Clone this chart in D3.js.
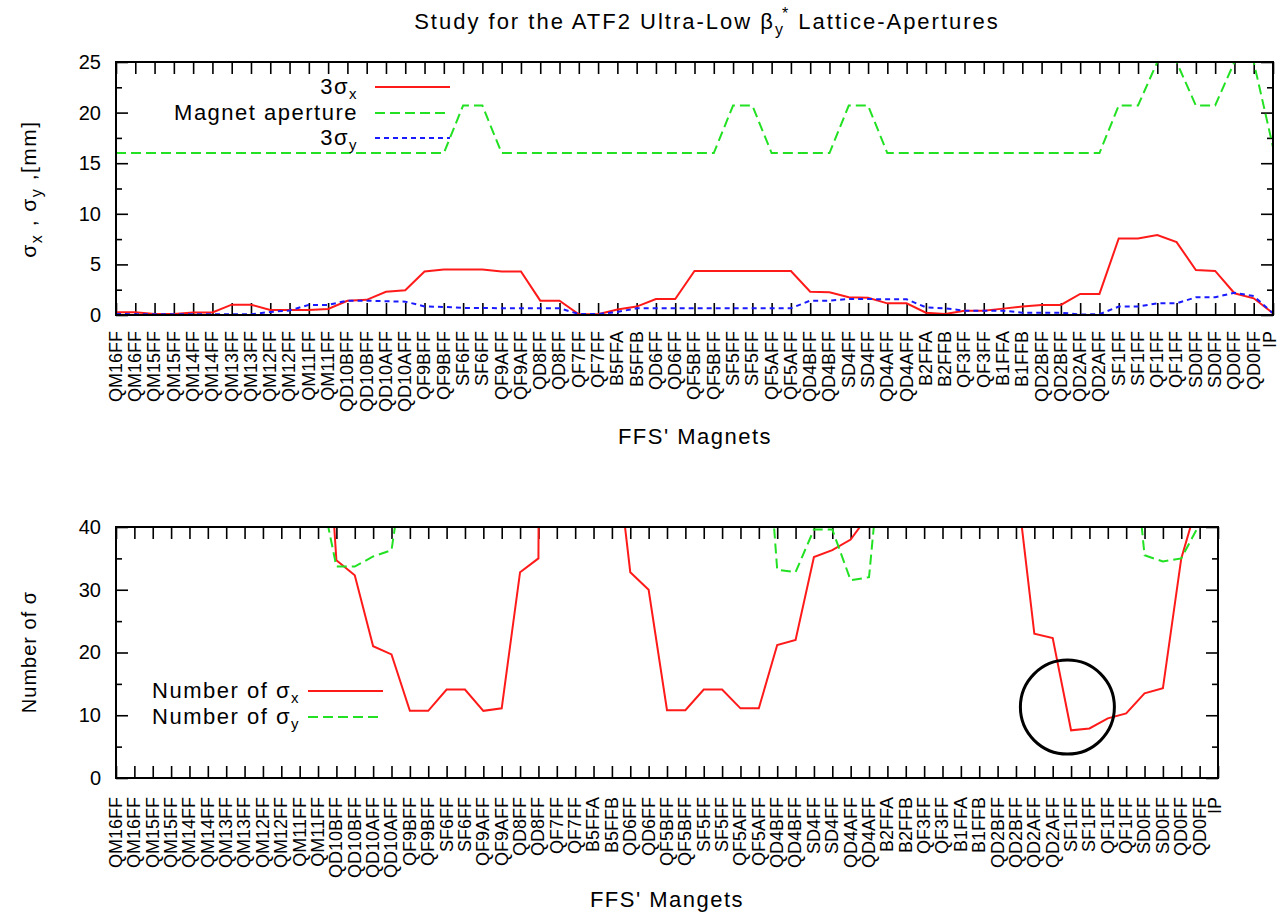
<!DOCTYPE html>
<html>
<head>
<meta charset="utf-8">
<script src="https://cdn.jsdelivr.net/npm/d3@7"></script>
<style>
  html, body { margin: 0; padding: 0; background: #fff; }
  svg text { font-family: "Liberation Sans", Arial, sans-serif; fill: #000; }
</style>
</head>
<body>
<svg id="chart" width="1280" height="917"></svg>
<script>
"use strict";

// magnet names along the final focus line (same for both panels)
const magnets = [
    "QM16FF", "QM16FF", "QM15FF", "QM15FF", "QM14FF", "QM14FF", "QM13FF", "QM13FF",
    "QM12FF", "QM12FF", "QM11FF", "QM11FF", "QD10BFF", "QD10BFF", "QD10AFF", "QD10AFF",
    "QF9BFF", "QF9BFF", "SF6FF", "SF6FF", "QF9AFF", "QF9AFF", "QD8FF", "QD8FF",
    "QF7FF", "QF7FF", "B5FFA", "B5FFB", "QD6FF", "QD6FF", "QF5BFF", "QF5BFF",
    "SF5FF", "SF5FF", "QF5AFF", "QF5AFF", "QD4BFF", "QD4BFF", "SD4FF", "SD4FF",
    "QD4AFF", "QD4AFF", "B2FFA", "B2FFB", "QF3FF", "QF3FF", "B1FFA", "B1FFB",
    "QD2BFF", "QD2BFF", "QD2AFF", "QD2AFF", "SF1FF", "SF1FF", "QF1FF", "QF1FF",
    "SD0FF", "SD0FF", "QD0FF", "QD0FF", "IP"
];

// top panel [mm]
const sigx3 = [
    0.26, 0.26, 0.1, 0.1, 0.25, 0.25, 1.02, 1.02, 0.5, 0.5, 0.5, 0.6,
    1.4, 1.5, 2.3, 2.45, 4.3, 4.5, 4.5, 4.5, 4.3, 4.3, 1.42, 1.42,
    0.07, 0.07, 0.55, 0.83, 1.58, 1.58, 4.35, 4.35, 4.35, 4.35, 4.35, 4.35,
    2.3, 2.25, 1.75, 1.7, 1.15, 1.15, 0.23, 0.1, 0.43, 0.43, 0.63, 0.83,
    1.0, 1.0, 2.08, 2.08, 7.56, 7.56, 7.9, 7.2, 4.45, 4.36, 2.15, 1.65, 0.17
];
const aperture = [
    16, 16, 16, 16, 16, 16, 16, 16, 16, 16, 16, 16,
    16, 16, 16, 16, 16, 16, 20.7, 20.7, 16, 16, 16, 16,
    16, 16, 16, 16, 16, 16, 16, 16, 20.7, 20.7, 16, 16,
    16, 16, 20.7, 20.7, 16, 16, 16, 16, 16, 16, 16, 16,
    16, 16, 16, 16, 20.7, 20.7, 25, 25, 20.7, 20.7, 25, 25, 16.6
];
const sigy3 = [
    0.1, 0.08, 0.07, 0.07, 0.07, 0.07, 0.07, 0.07, 0.3, 0.45, 1.0, 1.0,
    1.42, 1.42, 1.36, 1.32, 0.85, 0.8, 0.7, 0.7, 0.66, 0.66, 0.66, 0.66,
    0.1, 0.1, 0.3, 0.66, 0.66, 0.66, 0.66, 0.66, 0.66, 0.66, 0.66, 0.66,
    1.42, 1.42, 1.58, 1.58, 1.55, 1.55, 0.76, 0.66, 0.43, 0.43, 0.43, 0.23,
    0.23, 0.23, 0.05, 0.08, 0.83, 0.83, 1.15, 1.15, 1.75, 1.75, 2.2, 1.88, 0.17
];

// bottom panel (values above 40 run off the frame)
const nSigx = [
    185, 185, 480, 480, 190, 190, 47, 47, 96, 96, 96, 80,
    34.7, 32.3, 21, 19.7, 10.7, 10.7, 14.1, 14.1, 10.7, 11.1, 32.8, 35,
    690, 690, 87, 58, 32.8, 30, 10.8, 10.8, 14.1, 14.1, 11.1, 11.1,
    21.2, 22, 35.2, 36.3, 38, 42, 210, 480, 112, 112, 76, 58,
    48, 48, 23, 22.3, 7.6, 7.9, 9.5, 10.3, 13.5, 14.3, 35, 45, 290
];
const nSigy = [
    480, 600, 690, 690, 690, 690, 690, 690, 160, 107, 48, 48,
    33.7, 33.7, 35.3, 36.3, 56, 60, 89, 89, 73, 73, 73, 73,
    480, 480, 160, 73, 73, 73, 73, 73, 94, 94, 73, 73,
    33.2, 32.8, 39.6, 39.6, 31.5, 32, 63, 73, 112, 112, 112, 209,
    209, 209, 960, 600, 75, 75, 65, 65, 35.5, 34.5, 35, 40.5, 290
];

const topTicks = [0, 5, 10, 15, 20, 25];
const bottomTicks = [0, 10, 20, 30, 40];
const circleMark = {idx: 51.8, value: 11.3};

const RED = "#ff1a1a", GREEN = "#22e022", BLUE = "#1a1aff";
const svg = d3.select("#chart");
const idx = d3.range(magnets.length);

const drawPanel = function(box, yMax, yTicks, yMinor, series, clipId){
    const x = d3.scaleLinear().domain([0, magnets.length - 1]).range([box.left, box.right]);
    const y = d3.scaleLinear().domain([0, yMax]).range([box.bottom, box.top]);
    const g = svg.append("g");

    g.append("clipPath").attr("id", clipId)
        .append("rect")
        .attr("x", box.left).attr("y", box.top)
        .attr("width", box.right - box.left).attr("height", box.bottom - box.top);

    // x ticks, inward on bottom and top
    const xb = g.append("g").attr("transform", "translate(0," + box.bottom + ")")
        .call(d3.axisBottom(x).tickValues(idx).tickFormat((i) => magnets[i]).tickSize(-12).tickSizeOuter(0));
    xb.selectAll("text")
        .attr("transform", "rotate(-90)")
        .attr("text-anchor", "end")
        .attr("x", -box.labelGap).attr("y", 0)
        .attr("dy", (i) => (i === magnets.length - 1 ? "0.12em" : "0.3em"))
        .style("font-size", "18px");
    g.append("g").attr("transform", "translate(0," + box.top + ")")
        .call(d3.axisTop(x).tickValues(idx).tickFormat("").tickSize(-12).tickSizeOuter(0));

    // y ticks, left with labels and mirrored on the right
    g.append("g").attr("transform", "translate(" + box.left + ",0)")
        .call(d3.axisLeft(y).tickValues(yTicks).tickSize(-12).tickSizeOuter(0).tickPadding(15))
        .selectAll("text").style("font-size", "20px");
    g.append("g").attr("transform", "translate(" + box.right + ",0)")
        .call(d3.axisRight(y).tickValues(yTicks).tickFormat("").tickSize(-12).tickSizeOuter(0));
    g.append("g").attr("transform", "translate(" + box.left + ",0)")
        .call(d3.axisLeft(y).tickValues(yMinor).tickFormat("").tickSize(-6).tickSizeOuter(0));
    g.append("g").attr("transform", "translate(" + box.right + ",0)")
        .call(d3.axisRight(y).tickValues(yMinor).tickFormat("").tickSize(-6).tickSizeOuter(0));

    g.selectAll(".domain").remove();
    g.selectAll(".tick line").attr("stroke", "#000").attr("stroke-width", 1.6);

    const line = d3.line().x((d, i) => x(i)).y((d) => y(d));
    const lines = g.append("g").attr("clip-path", "url(#" + clipId + ")");
    series.forEach((s) => {
        lines.append("path")
            .datum(s.values)
            .attr("d", line)
            .attr("fill", "none")
            .attr("stroke", s.color)
            .attr("stroke-width", 2)
            .attr("stroke-dasharray", s.dash);
    });

    g.append("rect")
        .attr("x", box.left).attr("y", box.top)
        .attr("width", box.right - box.left).attr("height", box.bottom - box.top)
        .attr("fill", "none").attr("stroke", "#000").attr("stroke-width", 2);

    return {x: x, y: y, g: g};
};

// legend entry: right aligned label + sample line
const legendEntry = function(g, textRight, lineX0, lineX1, yy, color, dash, build){
    const t = g.append("text")
        .attr("x", textRight).attr("y", yy).attr("dy", "0.3em")
        .attr("text-anchor", "end")
        .style("font-size", "22px").style("letter-spacing", "1.5px");
    build(t);
    g.append("line")
        .attr("x1", lineX0).attr("x2", lineX1).attr("y1", yy).attr("y2", yy)
        .attr("stroke", color).attr("stroke-width", 2).attr("stroke-dasharray", dash);
};
const withSub = function(t, main, sub){
    t.append("tspan").text(main);
    t.append("tspan").text(sub).attr("dy", 5).style("font-size", "15px");
};

// ---------- top panel
const topPanel = drawPanel({left: 116, right: 1273, top: 62, bottom: 315, labelGap: 16},
    25, topTicks, [2.5, 7.5, 12.5, 17.5, 22.5],
    [
        {values: sigx3, color: RED, dash: null},
        {values: aperture, color: GREEN, dash: "10,5"},
        {values: sigy3, color: BLUE, dash: "5,4"}
    ], "clipTop");

legendEntry(topPanel.g, 358, 375, 450, 87, RED, null, (t) => withSub(t, "3σ", "x"));
legendEntry(topPanel.g, 358, 375, 450, 113, GREEN, "10,5", (t) => t.text("Magnet aperture"));
legendEntry(topPanel.g, 358, 375, 450, 138, BLUE, "5,4", (t) => withSub(t, "3σ", "y"));

const title = svg.append("text").attr("x", 707).attr("y", 29)
    .attr("text-anchor", "middle")
    .style("font-size", "22px").style("letter-spacing", "2px");
title.append("tspan").text("Study for the ATF2 Ultra-Low β");
title.append("tspan").text("y").attr("dy", 6).style("font-size", "16px");
title.append("tspan").text("*").attr("dy", -16).attr("dx", -3).style("font-size", "16px");
title.append("tspan").text(" Lattice-Apertures").attr("dy", 10);

const ytTop = svg.append("text").attr("transform", "translate(36,189) rotate(-90)")
    .attr("text-anchor", "middle")
    .style("font-size", "21px").style("letter-spacing", "1.5px");
ytTop.append("tspan").text("σ");
ytTop.append("tspan").text("x").attr("dy", 6).style("font-size", "16px");
ytTop.append("tspan").text(" , σ").attr("dy", -6);
ytTop.append("tspan").text("y").attr("dy", 6).style("font-size", "16px");
ytTop.append("tspan").text(" ,[mm]").attr("dy", -6);

svg.append("text").attr("x", 695).attr("y", 444).attr("text-anchor", "middle")
    .style("font-size", "22px").style("letter-spacing", "1.5px").text("FFS' Magnets");

// ---------- bottom panel
const botPanel = drawPanel({left: 116, right: 1218, top: 527, bottom: 778, labelGap: 19},
    40, bottomTicks, [5, 15, 25, 35],
    [
        {values: nSigx, color: RED, dash: null},
        {values: nSigy, color: GREEN, dash: "10,5"}
    ], "clipBot");

legendEntry(botPanel.g, 300, 308, 383, 691, RED, null, (t) => withSub(t, "Number of σ", "x"));
legendEntry(botPanel.g, 300, 308, 383, 717, GREEN, "10,5", (t) => withSub(t, "Number of σ", "y"));

svg.append("text").attr("transform", "translate(36,652) rotate(-90)")
    .attr("text-anchor", "middle")
    .style("font-size", "20px").style("letter-spacing", "1px").text("Number of σ");

svg.append("text").attr("x", 667).attr("y", 907).attr("text-anchor", "middle")
    .style("font-size", "22px").style("letter-spacing", "1.5px").text("FFS' Mangets");

// highlight ring around the minimum of the horizontal beam-stay-clear
svg.append("circle")
    .attr("cx", botPanel.x(circleMark.idx)).attr("cy", botPanel.y(circleMark.value))
    .attr("r", 47)
    .attr("fill", "none").attr("stroke", "#000").attr("stroke-width", 3);
</script>
</body>
</html>
